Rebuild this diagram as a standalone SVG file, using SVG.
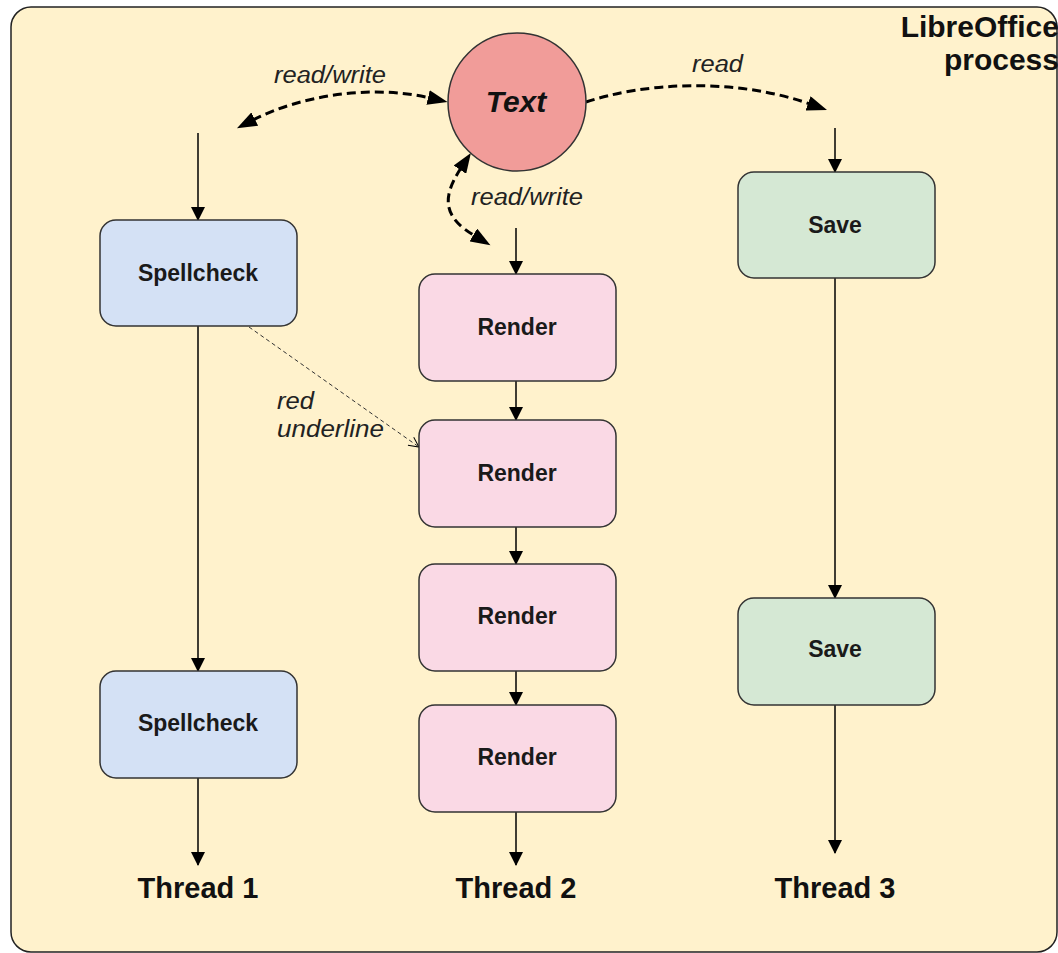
<svg xmlns="http://www.w3.org/2000/svg" width="1058" height="953" viewBox="0 0 1058 953">
  <defs>
    <style>
      .box { stroke: #333333; stroke-width: 1.5; }
      .spell { fill: #d4e1f5; }
      .render { fill: #fad9e5; }
      .save { fill: #d5e8d4; }
      .lbl { font-family: "Liberation Sans", Arial, sans-serif; font-weight: bold; font-size: 23px; fill: #1a1a1a; text-anchor: middle; }
      .thread { font-family: "Liberation Sans", Arial, sans-serif; font-weight: bold; font-size: 29px; fill: #111111; text-anchor: middle; }
      .edge-lbl { font-family: "Liberation Sans", Arial, sans-serif; font-style: italic; font-size: 23px; fill: #222222; }
      .flow { fill: none; stroke: #000000; stroke-width: 1.5; marker-end: url(#tri); }
      .access { fill: none; stroke: #000000; stroke-width: 3; stroke-dasharray: 9 5; }
    </style>
    <marker id="tri" markerUnits="userSpaceOnUse" markerWidth="14" markerHeight="14" refX="13" refY="7" orient="auto">
      <path d="M0,0 L14,7 L0,14 z" fill="#000000"/>
    </marker>
    <marker id="bigtri" markerUnits="userSpaceOnUse" markerWidth="21" markerHeight="15" refX="2" refY="7.5" orient="auto-start-reverse">
      <path d="M0,0 L20,7.5 L0,15 z" fill="#000000"/>
    </marker>
    <marker id="open" markerUnits="userSpaceOnUse" markerWidth="12" markerHeight="12" refX="11" refY="6" orient="auto">
      <path d="M1,1 L11,6 L1,11" fill="none" stroke="#000000" stroke-width="1"/>
    </marker>
  </defs>

  <!-- process container -->
  <g id="process">
    <rect x="11" y="7" width="1046" height="945" rx="20" ry="20" fill="#fff2cc" stroke="#222222" stroke-width="1.5"/>
    <text x="1059" y="37" font-family="'Liberation Sans', Arial, sans-serif" font-weight="bold" font-size="30" fill="#111111" text-anchor="end">LibreOffice</text>
    <text x="1059" y="70" font-family="'Liberation Sans', Arial, sans-serif" font-weight="bold" font-size="30" fill="#111111" text-anchor="end">process</text>
  </g>

  <!-- connectors -->
  <g id="connectors">
    <!-- thread 1 -->
    <path class="flow" d="M198,133 L198,220"/>
    <path class="flow" d="M198,326 L198,671"/>
    <path class="flow" d="M198,778 L198,865"/>
    <!-- thread 2 -->
    <path class="flow" d="M516,228 L516,274"/>
    <path class="flow" d="M516,381 L516,420"/>
    <path class="flow" d="M516,527 L516,564"/>
    <path class="flow" d="M516,671 L516,705"/>
    <path class="flow" d="M516,812 L516,865"/>
    <!-- thread 3 -->
    <path class="flow" d="M835,128 L835,172"/>
    <path class="flow" d="M835,278 L835,598"/>
    <path class="flow" d="M835,705 L835,853"/>

    <!-- shared text access -->
    <path class="access" d="M253,120 C300,96 370,84 430,98" marker-start="url(#bigtri)" marker-end="url(#bigtri)"/>
    <path class="access" d="M586,102 C640,84 730,76 810,104" marker-end="url(#bigtri)"/>
    <path class="access" d="M461,168 C440,200 445,218 475,236" marker-start="url(#bigtri)" marker-end="url(#bigtri)"/>

    <!-- spellcheck result fed to render -->
    <path d="M249,327 L419,447" fill="none" stroke="#333333" stroke-width="1" stroke-dasharray="4 3" marker-end="url(#open)"/>

    <text class="edge-lbl" x="274" y="83" textLength="112" lengthAdjust="spacingAndGlyphs">read/write</text>
    <text class="edge-lbl" x="692" y="72" textLength="51" lengthAdjust="spacingAndGlyphs">read</text>
    <text class="edge-lbl" x="471" y="205" textLength="112" lengthAdjust="spacingAndGlyphs">read/write</text>
    <text class="edge-lbl" x="277" y="409" textLength="37" lengthAdjust="spacingAndGlyphs">red</text>
    <text class="edge-lbl" x="277" y="437" textLength="107" lengthAdjust="spacingAndGlyphs">underline</text>
  </g>

  <!-- shared document text -->
  <g id="text-node">
    <circle cx="517" cy="102" r="69" fill="#f19c99" stroke="#333333" stroke-width="1.5"/>
    <text x="516" y="112" font-family="'Liberation Sans', Arial, sans-serif" font-weight="bold" font-style="italic" font-size="30" fill="#111111" text-anchor="middle">Text</text>
  </g>

  <!-- thread 1 -->
  <g id="spellcheck-1">
    <rect class="box spell" x="100" y="220" width="197" height="106" rx="16"/>
    <text class="lbl" x="198" y="281">Spellcheck</text>
  </g>
  <g id="spellcheck-2">
    <rect class="box spell" x="100" y="671" width="197" height="107" rx="16"/>
    <text class="lbl" x="198" y="731">Spellcheck</text>
  </g>

  <!-- thread 2 -->
  <g id="render-1">
    <rect class="box render" x="419" y="274" width="197" height="107" rx="16"/>
    <text class="lbl" x="517" y="335">Render</text>
  </g>
  <g id="render-2">
    <rect class="box render" x="419" y="420" width="197" height="107" rx="16"/>
    <text class="lbl" x="517" y="481">Render</text>
  </g>
  <g id="render-3">
    <rect class="box render" x="419" y="564" width="197" height="107" rx="16"/>
    <text class="lbl" x="517" y="624">Render</text>
  </g>
  <g id="render-4">
    <rect class="box render" x="419" y="705" width="197" height="107" rx="16"/>
    <text class="lbl" x="517" y="765">Render</text>
  </g>

  <!-- thread 3 -->
  <g id="save-1">
    <rect class="box save" x="738" y="172" width="197" height="106" rx="16"/>
    <text class="lbl" x="835" y="233">Save</text>
  </g>
  <g id="save-2">
    <rect class="box save" x="738" y="598" width="197" height="107" rx="16"/>
    <text class="lbl" x="835" y="657">Save</text>
  </g>

  <!-- thread captions -->
  <g id="thread-labels">
    <text class="thread" x="198" y="898">Thread 1</text>
    <text class="thread" x="516" y="898">Thread 2</text>
    <text class="thread" x="835" y="898">Thread 3</text>
  </g>
</svg>
